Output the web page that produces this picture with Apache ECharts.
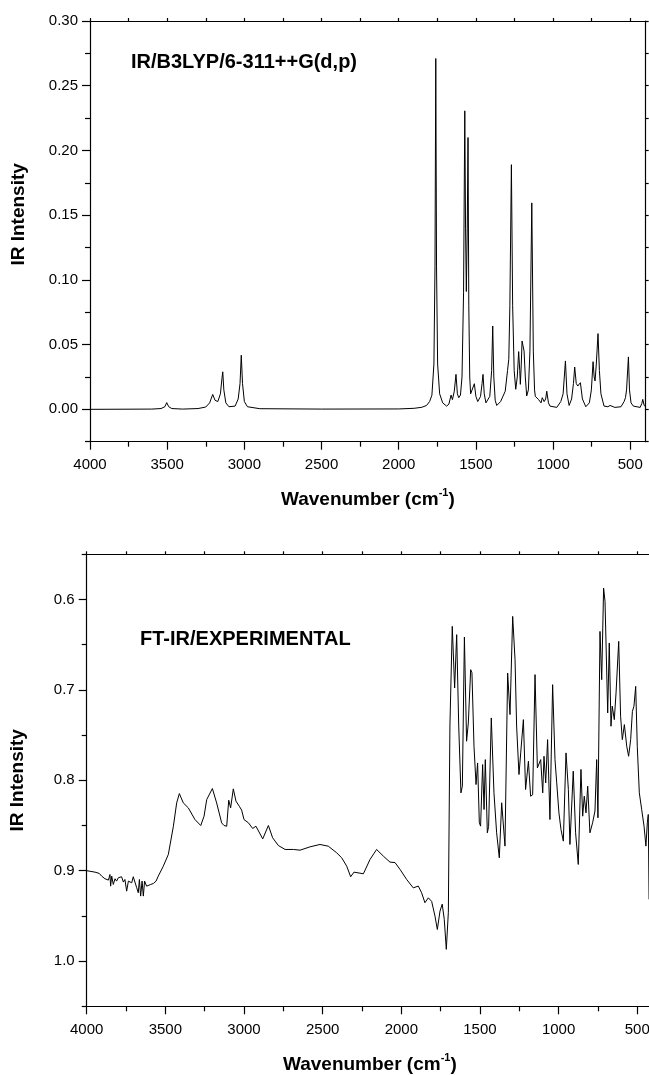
<!DOCTYPE html>
<html>
<head>
<meta charset="utf-8">
<script src="https://cdn.jsdelivr.net/npm/echarts@6/dist/echarts.min.js"></script>
<style>html,body{margin:0;padding:0;background:#fff}#c{width:649px;height:1075px}</style>
</head>
<body>
<div id="c"></div>
<script>
// ---- tick values ----
var xMajorTicks = [4000, 3500, 3000, 2500, 2000, 1500, 1000, 500];
var xMinorTicks = [3750, 3250, 2750, 2250, 1750, 1250, 750];
var yTopMajorTicks = [0.00, 0.05, 0.10, 0.15, 0.20, 0.25, 0.30];
var yTopMinorTicks = [-0.025, 0.025, 0.075, 0.125, 0.175, 0.225, 0.275];
var yBotMajorTicks = [0.6, 0.7, 0.8, 0.9, 1.0];
var yBotMinorTicks = [0.55, 0.65, 0.75, 0.85, 0.95, 1.05];

// ---- calculated spectrum (wavenumber, intensity) ----
var calcWavenumber = [4000,3600,3540,3515,3503,3490,3470,3400,3300,3250,3225,3205,3190,3172,3155,3145,3140,3133,3120,3100,3060,3040,3028,3020,3012,3000,2980,2900,2500,2000,1900,1850,1820,1800,1785,1772,1765,1760,1755,1748,1735,1715,1690,1675,1661,1652,1640,1629,1620,1611,1600,1590,1580,1572,1567,1562,1556,1551,1546,1540,1534,1522,1510,1500,1488,1470,1460,1454,1446,1435,1426,1410,1398,1391,1384,1375,1365,1340,1310,1295,1287,1280,1270,1262,1252,1242,1232,1223,1216,1212,1206,1201,1188,1180,1171,1160,1150,1138,1128,1120,1115,1095,1078,1070,1058,1048,1041,1030,1020,976,950,935,920,910,896,880,868,860,850,840,823,810,788,765,752,741,734,728,720,709,700,690,670,645,631,620,600,560,540,531,524,512,505,495,480,436,425,419,410,400];
var calcIntensity = [0,0.0002,0.0006,0.002,0.0052,0.002,0.0006,0.0002,0.0006,0.0018,0.005,0.0115,0.007,0.006,0.012,0.024,0.029,0.015,0.005,0.002,0.0025,0.008,0.02,0.0418,0.02,0.006,0.002,0.0005,0.0002,0.0003,0.0008,0.0016,0.003,0.006,0.011,0.035,0.11,0.271,0.11,0.035,0.012,0.005,0.0025,0.004,0.011,0.0075,0.014,0.027,0.012,0.009,0.011,0.025,0.09,0.2306,0.14,0.091,0.14,0.21,0.08,0.025,0.012,0.012,0.0198,0.01,0.006,0.01,0.02,0.027,0.012,0.005,0.004,0.01,0.03,0.0644,0.025,0.007,0.003,0.006,0.014,0.03,0.0387,0.08,0.189,0.08,0.03,0.0155,0.025,0.0446,0.03,0.0193,0.035,0.0528,0.045,0.025,0.0103,0.015,0.045,0.1595,0.045,0.015,0.01,0.0077,0.005,0.009,0.006,0.008,0.014,0.005,0.0025,0.0015,0.006,0.012,0.0374,0.012,0.003,0.008,0.02,0.0327,0.02,0.018,0.0206,0.008,0.002,0.005,0.015,0.0368,0.025,0.0219,0.035,0.0585,0.03,0.012,0.0025,0.002,0.003,0.0015,0.0015,0.002,0.006,0.009,0.015,0.0405,0.015,0.005,0.0025,0.0015,0.0045,0.0077,0.003,0.002];

// ---- experimental spectrum (wavenumber, intensity) ----
var expWavenumber = [4000,3947,3920,3905,3894,3884,3873,3862,3852,3848,3841,3831,3820,3810,3799,3788,3778,3767,3757,3746,3735,3725,3714,3704,3693,3682,3672,3665,3657,3648,3640,3632,3619,3608,3593,3576,3559,3545,3513,3481,3449,3428,3411,3386,3354,3312,3275,3254,3237,3201,3174,3142,3127,3110,3097,3085,3068,3051,3030,3015,3000,2972,2945,2924,2881,2845,2818,2782,2739,2686,2644,2580,2517,2464,2411,2379,2347,2322,2301,2241,2199,2157,2114,2072,2040,2008,1966,1924,1892,1871,1850,1828,1807,1786,1771,1754,1740,1727,1714,1701,1691,1676,1661,1648,1635,1621,1612,1599,1585,1574,1559,1551,1538,1525,1515,1504,1496,1483,1474,1466,1453,1445,1428,1411,1394,1377,1362,1341,1324,1309,1292,1277,1267,1252,1241,1224,1210,1192,1178,1165,1150,1135,1123,1114,1101,1093,1082,1070,1055,1038,1023,1012,998,985,970,953,938,928,917,907,892,875,858,847,837,826,815,801,784,769,758,750,737,726,714,705,699,688,678,667,659,646,635,618,606,595,582,567,555,542,531,521,510,500,487,472,457,445,436,430,425];
var expIntensity = [0.9,0.9016,0.903,0.906,0.906,0.9089,0.9067,0.9104,0.9042,0.9171,0.906,0.9152,0.9089,0.9115,0.9078,0.9097,0.9067,0.9126,0.9097,0.9226,0.9115,0.9097,0.9134,0.9067,0.9078,0.9189,0.9244,0.9097,0.9281,0.9115,0.9281,0.9115,0.9171,0.9189,0.9152,0.9141,0.9115,0.906,0.895,0.882,0.8508,0.825,0.8147,0.825,0.8305,0.8434,0.85,0.8397,0.8213,0.8091,0.825,0.8471,0.85,0.8508,0.822,0.8305,0.8095,0.8231,0.8287,0.833,0.8434,0.847,0.8533,0.8508,0.8648,0.85,0.8636,0.8721,0.8765,0.8765,0.8773,0.8736,0.871,0.8729,0.8802,0.8857,0.895,0.9067,0.9016,0.9034,0.8876,0.8765,0.8839,0.8905,0.891,0.8986,0.9097,0.919,0.917,0.9244,0.9354,0.93,0.934,0.9502,0.965,0.9446,0.937,0.9538,0.987,0.946,0.74,0.6297,0.6979,0.6389,0.74,0.8139,0.8065,0.6415,0.7568,0.7365,0.6776,0.681,0.7623,0.8047,0.7808,0.847,0.8507,0.7826,0.8323,0.7771,0.8581,0.851,0.731,0.8139,0.8581,0.8857,0.8249,0.8728,0.6813,0.7273,0.6187,0.6666,0.74,0.7936,0.7697,0.7329,0.8102,0.7789,0.8176,0.816,0.6831,0.7863,0.785,0.7771,0.8139,0.7734,0.8028,0.755,0.8434,0.6942,0.7771,0.8028,0.836,0.8544,0.8673,0.7697,0.8102,0.871,0.869,0.7899,0.8581,0.8931,0.788,0.8397,0.8176,0.836,0.8065,0.8581,0.847,0.834,0.7771,0.8415,0.6353,0.6887,0.5874,0.6021,0.601,0.7255,0.6481,0.7402,0.718,0.7329,0.7034,0.6463,0.7292,0.755,0.7384,0.7623,0.7734,0.755,0.7237,0.718,0.6961,0.7623,0.8139,0.8323,0.8507,0.8728,0.847,0.8378,0.9317];

function pairs(xs, ys) { var out = []; for (var i = 0; i < xs.length; i++) out.push([xs[i], ys[i]]); return out; }

var FONT = 'Liberation Sans';
var BLACK = '#000';
var axisLineStyle = { show: true, onZero: false, lineStyle: { color: BLACK, width: 1.2 } };
var noLine = { show: false, onZero: false };

function xAxesFor(gridIndex, nameGap) {
  return [
    { gridIndex: gridIndex, type: 'value', position: 'bottom', min: 400, max: 4000, inverse: true,
      axisLine: axisLineStyle, splitLine: { show: false },
      axisTick: { show: true, inside: false, length: 8, customValues: xMajorTicks, lineStyle: { color: BLACK, width: 1.2 } },
      axisLabel: { show: true, customValues: xMajorTicks, margin: 16, color: BLACK, fontFamily: FONT, fontSize: 15,
        formatter: function (v) { return String(Math.round(v)); } },
      name: '{a|Wavenumber (cm}{s|-1}{a|)}', nameLocation: 'middle', nameGap: nameGap,
      nameTextStyle: { rich: {
        a: { fontFamily: FONT, fontWeight: 'bold', fontSize: 19, color: BLACK, lineHeight: 22, verticalAlign: 'bottom' },
        s: { fontFamily: FONT, fontWeight: 'bold', fontSize: 11, color: BLACK, lineHeight: 22, verticalAlign: 'top' } } } },
    { gridIndex: gridIndex, type: 'value', position: 'bottom', min: 400, max: 4000, inverse: true,
      axisLine: noLine, splitLine: { show: false }, axisLabel: { show: false },
      axisTick: { show: true, inside: false, length: 5, customValues: xMinorTicks, lineStyle: { color: BLACK, width: 1.2 } } },
    { gridIndex: gridIndex, type: 'value', position: 'top', min: 400, max: 4000, inverse: true,
      axisLine: axisLineStyle, splitLine: { show: false }, axisLabel: { show: false },
      axisTick: { show: true, inside: false, length: 3, customValues: xMajorTicks.concat(xMinorTicks), lineStyle: { color: BLACK, width: 1.2 } } }
  ];
}

function yAxesFor(gridIndex, min, max, inverse, major, minor, digits, namePad, nameGap) {
  return [
    { gridIndex: gridIndex, type: 'value', position: 'left', min: min, max: max, inverse: inverse,
      axisLine: axisLineStyle, splitLine: { show: false },
      axisTick: { show: true, inside: false, length: 8, customValues: major, lineStyle: { color: BLACK, width: 1.2 } },
      axisLabel: { show: true, customValues: major, margin: 12, color: BLACK, fontFamily: FONT, fontSize: 15,
        formatter: function (v) { return v.toFixed(digits); } },
      name: 'IR Intensity', nameLocation: 'middle', nameGap: nameGap,
      nameTextStyle: { fontFamily: FONT, fontWeight: 'bold', fontSize: 19, color: BLACK, padding: namePad } },
    { gridIndex: gridIndex, type: 'value', position: 'left', min: min, max: max, inverse: inverse,
      axisLine: noLine, splitLine: { show: false }, axisLabel: { show: false },
      axisTick: { show: true, inside: false, length: 5, customValues: minor, lineStyle: { color: BLACK, width: 1.2 } } },
    { gridIndex: gridIndex, type: 'value', position: 'right', min: min, max: max, inverse: inverse,
      axisLine: axisLineStyle, splitLine: { show: false }, axisLabel: { show: false },
      axisTick: { show: true, inside: false, length: 3, customValues: major.concat(minor), lineStyle: { color: BLACK, width: 1.2 } } }
  ];
}

var chart = echarts.init(document.getElementById('c'), null, { renderer: 'canvas' });
chart.setOption({
  animation: false,
  backgroundColor: '#fff',
  grid: [
    { left: 90, width: 555.7, top: 21, height: 420.7, outerBoundsMode: 'none', containLabel: false },
    { left: 86.7, width: 566.3, top: 554.3, height: 452, outerBoundsMode: 'none', containLabel: false }
  ],
  xAxis: xAxesFor(0, 46).concat(xAxesFor(1, 46)),
  yAxis: yAxesFor(0, -0.025, 0.30, false, yTopMajorTicks, yTopMinorTicks, 2, [0, 0, 0, 34], 62)
    .concat(yAxesFor(1, 0.55, 1.05, true, yBotMajorTicks, yBotMinorTicks, 1, 0, 59)),
  graphic: [
    { type: 'text', left: 131, top: 52, style: { text: 'IR/B3LYP/6-311++G(d,p)', fill: BLACK, font: 'bold 20px "Liberation Sans"' } },
    { type: 'text', left: 140, top: 629, style: { text: 'FT-IR/EXPERIMENTAL', fill: BLACK, font: 'bold 20px "Liberation Sans"' } }
  ],
  series: [
    { type: 'line', xAxisIndex: 0, yAxisIndex: 0, data: pairs(calcWavenumber, calcIntensity),
      showSymbol: false, symbol: 'none', lineStyle: { color: BLACK, width: 1 }, silent: true },
    { type: 'line', xAxisIndex: 3, yAxisIndex: 3, data: pairs(expWavenumber, expIntensity),
      showSymbol: false, symbol: 'none', lineStyle: { color: BLACK, width: 1 }, silent: true }
  ]
});
</script>
</body>
</html>
